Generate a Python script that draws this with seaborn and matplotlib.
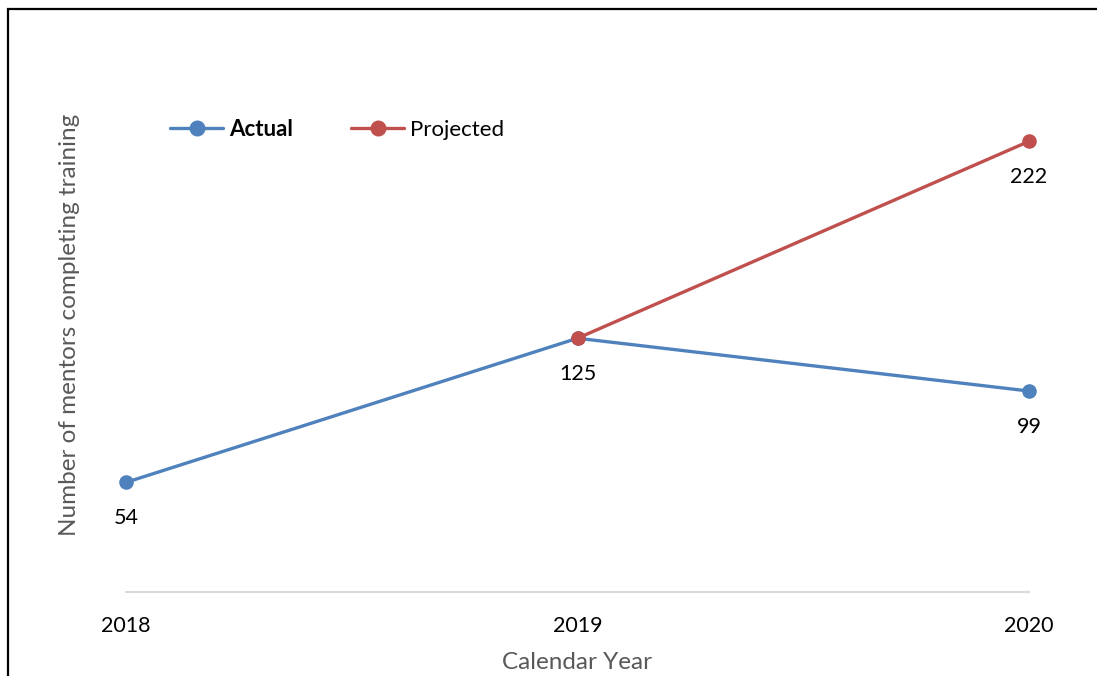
import pandas as pd
import matplotlib.pyplot as plt
import seaborn as sns
from matplotlib.patches import Rectangle
from matplotlib.lines import Line2D

years = [2018, 2019, 2020]
actual = [54, 125, 99]
projected_years = [2019, 2020]
projected = [125, 222]

colors = {'Actual': '#4F81BD', 'Projected': '#C0504D'}

sns.set_theme(style='white')
plt.rcParams['font.family'] = ['Lato', 'DejaVu Sans']
plt.rcParams['text.color'] = 'black'

df_actual = pd.DataFrame({'Year': years, 'Mentors': actual})
df_proj = pd.DataFrame({'Year': projected_years, 'Mentors': projected})

fig = plt.figure(figsize=(10.97, 6.76), dpi=100, facecolor='white')
W, H = 1097, 676
ax = fig.add_axes([126 / W, 84 / H, (1029 - 126) / W, (592 - 84.5) / H])

sns.lineplot(data=df_actual, x='Year', y='Mentors', color=colors['Actual'],
             linewidth=2.4, marker='o', markersize=10.5, markeredgewidth=0, ax=ax)
sns.lineplot(data=df_proj, x='Year', y='Mentors', color=colors['Projected'],
             linewidth=2.4, marker='o', markersize=10.5, markeredgewidth=0, ax=ax)
for line in ax.lines:
    line.set_clip_on(False)

# data labels under each point
for x, y in zip(years, actual):
    ax.annotate(str(y), (x, y), xytext=(0, -26), textcoords='offset points',
                ha='center', va='center', fontsize=15.5, color='black')
ax.annotate(str(projected[-1]), (projected_years[-1], projected[-1]), xytext=(0, -26),
            textcoords='offset points', ha='center', va='center', fontsize=15.5, color='black')

ax.set_xlim(2018, 2020)
ax.set_ylim(0, 250)
ax.set_xticks(years)
ax.set_xticklabels([str(y) for y in years], fontsize=15.5, color='black')
ax.set_yticks([])
ax.tick_params(axis='x', length=0, pad=17)
for s in ['top', 'right', 'left']:
    ax.spines[s].set_visible(False)
ax.spines['bottom'].set_color('#D9D9D9')
ax.spines['bottom'].set_linewidth(1.5)

ax.set_xlabel('Calendar Year', fontsize=17.5, color='#595959', labelpad=12)
ax.set_ylabel('')
fig.text(70 / W, 1 - 325 / H, 'Number of mentors completing training', rotation=90,
         fontsize=17.5, color='#595959', ha='center', va='center')

handles = [Line2D([], [], color=colors['Actual'], linewidth=2.4, marker='o', markersize=10.5),
           Line2D([], [], color=colors['Projected'], linewidth=2.4, marker='o', markersize=10.5)]
leg = fig.legend(handles, ['Actual', 'Projected'], loc='center left',
                 bbox_to_anchor=(170 / W, 1 - 129 / H), ncol=2, frameon=False,
                 borderpad=0, borderaxespad=0,
                 fontsize=16, handlelength=2.4, handletextpad=0.27, columnspacing=2.6)
for t in leg.get_texts():
    t.set_color('black')
leg.get_texts()[0].set_fontweight('bold')

fig.add_artist(Rectangle((7.5 / W, -0.1), 1.2, 1.1 - 9.5 / H, transform=fig.transFigure,
                         fill=False, edgecolor='black', linewidth=1.6))

fig.savefig('out.png', dpi=100, facecolor='white')
